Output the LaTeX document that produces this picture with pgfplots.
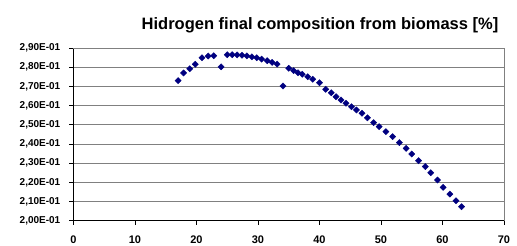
\documentclass[border=0pt]{standalone}
\usepackage{fontspec}
\setmainfont{Liberation Sans}
\usepackage{pgfplots}
\pgfplotsset{compat=1.18}
\definecolor{navy}{RGB}{0,0,128}
\definecolor{gridgray}{RGB}{128,128,128}
\begin{document}
\begin{tikzpicture}
\useasboundingbox (0,0) rectangle (517pt,246pt);
\begin{axis}[
  at={(73.5pt,25.3pt)}, anchor=south west,
  scale only axis, width=430.5pt, height=172.7pt,
  xmin=0, xmax=70, ymin=0.20, ymax=0.29,
  xtick={0,10,...,70},
  ytick={0.20,0.21,0.22,0.23,0.24,0.25,0.26,0.27,0.28,0.29},
  yticklabels={2{,}00E-01,2{,}10E-01,2{,}20E-01,2{,}30E-01,2{,}40E-01,2{,}50E-01,2{,}60E-01,2{,}70E-01,2{,}80E-01,2{,}90E-01},
  xticklabels={0,10,20,30,40,50,60,70},
  axis x line=bottom, axis y line=left,
  axis line style={-, black, line width=0.8pt},
  tick align=outside, major tick length=4pt,
  tick style={black, line width=0.8pt},
  ymajorgrids, grid style={gridgray, line width=0.8pt},
  yticklabel style={font=\fontsize{10}{10}\selectfont\bfseries, anchor=east, inner sep=0pt, xshift=-9pt},
  xticklabel style={font=\fontsize{11}{11}\selectfont\bfseries, anchor=base, inner sep=0pt, yshift=-19pt},
  clip=false,
]
\draw[gridgray, line width=0.8pt] (rel axis cs:1,0) -- (rel axis cs:1,1);
\draw[gridgray, line width=0.8pt] (rel axis cs:0,1) -- (rel axis cs:1,1);
\addplot[only marks, mark=square*, mark size=2.2pt, mark options={rotate=45, fill=navy, draw=navy}] coordinates {
(17.0,0.2730) (17.9,0.2770) (18.9,0.2792) (19.8,0.2815) (20.9,0.2849)
(21.9,0.2858) (22.8,0.2860) (24.0,0.2802) (25.0,0.2865) (25.8,0.2865)
(26.6,0.2864) (27.4,0.2862) (28.2,0.2859) (29.0,0.2854) (29.8,0.2849)
(30.6,0.2842) (31.5,0.2834) (32.3,0.2825) (33.1,0.2816) (34.06,0.2702)
(35.0,0.2794) (35.8,0.2782) (36.5,0.2771) (37.2,0.2763) (38.1,0.2750)
(38.9,0.2737) (40.0,0.2719) (41.0,0.2685) (41.9,0.2667) (42.7,0.2646)
(43.5,0.2629) (44.3,0.2612) (45.2,0.2594) (46.0,0.2577) (46.9,0.2560)
(47.8,0.2536) (48.8,0.2511) (49.7,0.2490) (50.8,0.2464) (51.9,0.2438)
(53.0,0.2407) (54.1,0.2377) (55.0,0.2348) (56.1,0.2313) (57.2,0.2282)
(58.1,0.2250) (59.2,0.2212) (60.1,0.2174) (61.2,0.2139) (62.2,0.2104)
(63.1,0.2073)
};
\end{axis}
\node[anchor=base, inner sep=0pt, font=\fontsize{16.5}{16.5}\selectfont\bfseries] at (320pt,216pt) {Hidrogen final composition from biomass [\%]};
\end{tikzpicture}
\end{document}
